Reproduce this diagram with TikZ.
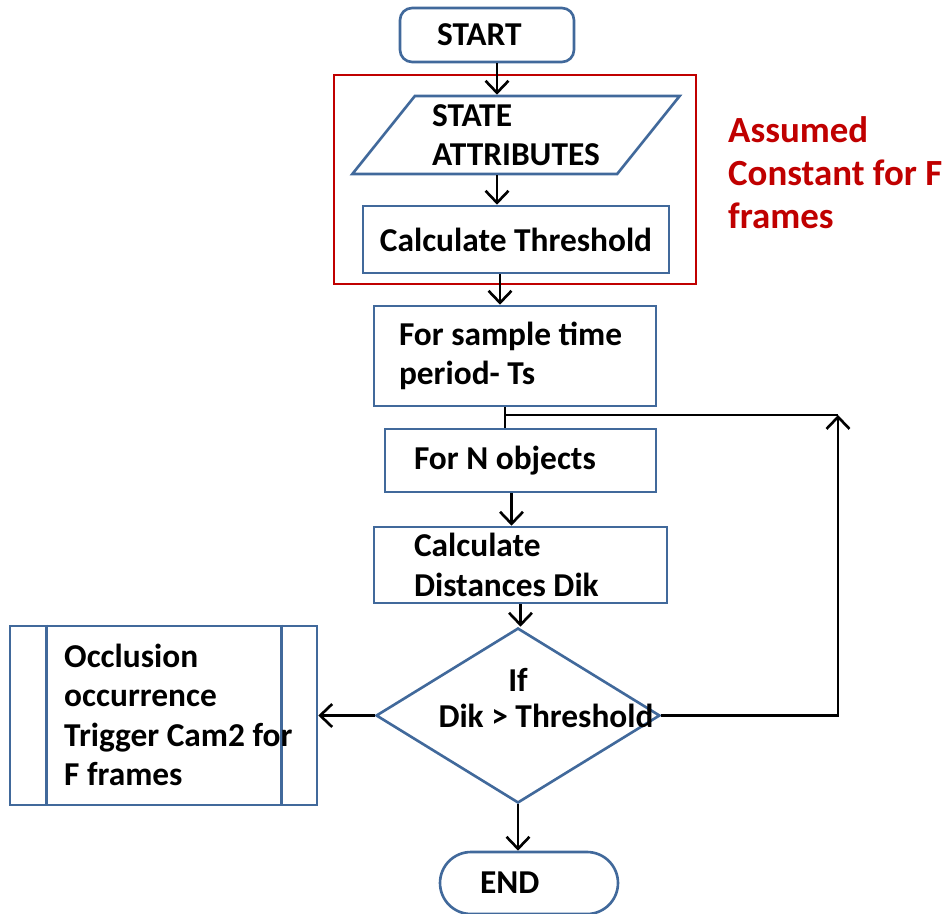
\documentclass[tikz,border=0pt]{standalone}
\usepackage{fontspec}
\setmainfont{Carlito}
\usetikzlibrary{shapes.geometric,arrows.meta,positioning}
\definecolor{flowblue}{RGB}{65,105,155}
\definecolor{flowred}{RGB}{192,0,0}

\begin{document}
\begin{tikzpicture}[x=0.02cm,y=-0.02cm,
    every node/.style={font=\fontsize{19}{22.5}\selectfont\bfseries},
    box/.style={draw=flowblue,line width=1.5pt,rectangle,inner ysep=0pt,align=flush left},
    arr/.style={line width=1.5pt,-{Straight Barb[length=2.4mm,width=4.6mm]}}]
        \useasboundingbox (0,0) rectangle (950,913);
        % start and the constant part
        \node[box,rounded corners=0.24cm,minimum height=1.08cm,inner xsep=0.74cm,text width=2cm] (start) at (487,35) {START};
        \node[draw=flowblue,line width=1.5pt,trapezium,trapezium left angle=50,trapezium right angle=130,
              trapezium stretches=true,minimum width=6.56cm,minimum height=1.56cm,inner sep=0pt,align=left] (attr) at (516,135) {STATE\\ATTRIBUTES};
        \node[box,minimum width=6.12cm,minimum height=1.34cm,inner xsep=0pt,align=center] (thr) at (516,239.5) {Calculate Threshold};
        \draw[draw=flowred,line width=1.6pt] (334,75) rectangle (696,284);
        \node[text=flowred,anchor=west,align=left,font=\fontsize{21}{24.5}\selectfont\bfseries] (note) at (722,173) {Assumed\\Constant for F\\frames};
        % loop part
        \node[box,minimum height=2cm,inner xsep=0.5cm,text width=4.64cm] (sample) at (515,356) {For sample time\\period- Ts};
        \node[box,minimum height=1.26cm,inner xsep=0.58cm,text width=4.26cm] (objects) at (520.5,460.5) {For N objects};
        \node[box,minimum height=1.52cm,inner xsep=0.8cm,text width=4.26cm] (dist) at (520.5,565) {Calculate\\Distances Dik};
        \node[draw=flowblue,line width=1.5pt,diamond,minimum width=5.68cm,minimum height=3.5cm,inner sep=0pt] (cond) at (518,715.5) {};
        \node (iftext) at (518,680) {If};
        \node (cmp) at (546,716) {Dik > Threshold};
        % occlusion and end
        \node[box,minimum width=6.14cm,minimum height=3.58cm] (occl) at (163.5,715.5) {};
        \draw[flowblue,line width=1.5pt] ([xshift=0.76cm]occl.north west) -- ([xshift=0.76cm]occl.south west);
        \draw[flowblue,line width=1.5pt] ([xshift=-0.74cm]occl.north east) -- ([xshift=-0.74cm]occl.south east);
        \node[anchor=west,align=left] (occltext) at (58,715) {Occlusion\\occurrence\\Trigger Cam2 for\\F frames};
        \node[box,rounded corners=0.62cm,minimum height=1.24cm,inner xsep=0.8cm,text width=1.96cm] (end) at (529,883) {END};
        \coordinate (loop) at (838,415);
        % arrows
        \draw[arr] ([xshift=0.2cm]start.south) -- ([xshift=0.2cm]start.south |- attr.north);
        \draw[arr] ([xshift=-0.38cm]attr.south) -- ([xshift=-0.38cm]attr.south |- thr.north);
        \draw[arr] ([xshift=-0.32cm]thr.south) -- ([xshift=-0.32cm]thr.south |- sample.north);
        \draw[line width=1.5pt] ([xshift=-0.2cm]sample.south) -- ([xshift=-0.2cm]sample.south |- objects.north);
        \draw[arr] ([xshift=-0.18cm]objects.south) -- ([xshift=-0.18cm]objects.south |- dist.north);
        \draw[arr] (dist.south) -- (dist.south |- cond.north);
        \draw[arr] (cond.west) -- (occl.east);
        \draw[arr] (cond.south) -- (cond.south |- end.north);
        \draw[arr] (cond.east) -| (loop);
        \draw[line width=1.5pt] (loop) -- ([xshift=-0.2cm]sample.south |- loop);
      \end{tikzpicture}
\end{document}
